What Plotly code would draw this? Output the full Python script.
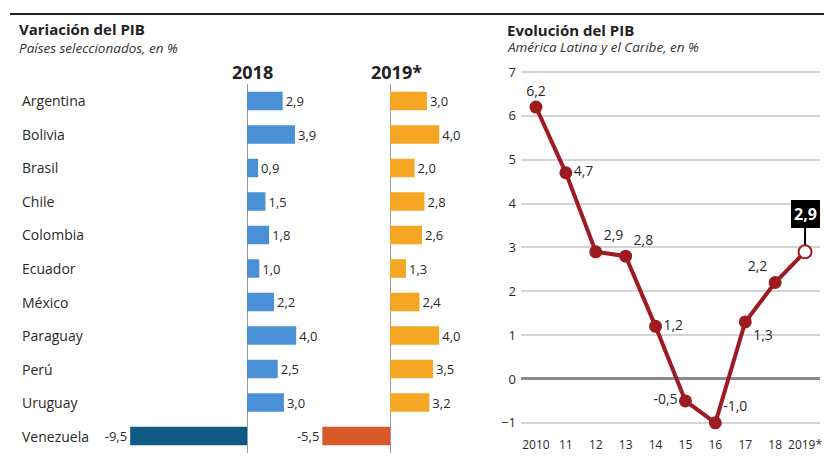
import plotly.graph_objects as go

# Datos: variación del PIB por país
paises = ["Argentina", "Bolivia", "Brasil", "Chile", "Colombia", "Ecuador",
          "México", "Paraguay", "Perú", "Uruguay", "Venezuela"]
pib_2018 = [2.9, 3.9, 0.9, 1.5, 1.8, 1.0, 2.2, 4.0, 2.5, 3.0, -9.5]
pib_2019 = [3.0, 4.0, 2.0, 2.8, 2.6, 1.3, 2.4, 4.0, 3.5, 3.2, -5.5]

# Evolución del PIB, América Latina y el Caribe
anios = ["2010", "11", "12", "13", "14", "15", "16", "17", "18", "2019*"]
pib_al = [6.2, 4.7, 2.9, 2.8, 1.2, -0.5, -1.0, 1.3, 2.2, 2.9]
y_ticks = [7, 6, 5, 4, 3, 2, 1, 0, -1]

# la página tiene 8 px de margen en el body
OFF = 8
W, H = 832 - OFF, 460 - OFF
FONT = "Open Sans"
GRIS = "#2a2a2a"


def px(x):
    return (x - OFF) / W


def py(y):
    return 1 - (y - OFF) / H


def coma(v):
    return f"{v:.1f}".replace(".", ",")


azul = ["#4a90d6" if v >= 0 else "#0f5a82" for v in pib_2018]
naranja = ["#f5a623" if v >= 0 else "#d9582a" for v in pib_2019]
rojo = "#9e1b22"

fig = go.Figure()

fig.add_trace(go.Bar(
    x=pib_2018, y=paises, orientation="h", xaxis="x", yaxis="y",
    marker=dict(color=azul, line=dict(width=0)), width=0.55,
    text=[coma(v) for v in pib_2018], textposition="outside",
    textfont=dict(size=13, color=GRIS, family=FONT), cliponaxis=False,
))
fig.add_trace(go.Bar(
    x=pib_2019, y=paises, orientation="h", xaxis="x2", yaxis="y2",
    marker=dict(color=naranja, line=dict(width=0)), width=0.55,
    text=[coma(v) for v in pib_2019], textposition="outside",
    textfont=dict(size=13, color=GRIS, family=FONT), cliponaxis=False,
))

posiciones = ["top center", "middle right", "top right", "top right", "middle right",
              "middle left", "top right", "bottom right", "top left", "top center"]
textos = [coma(v) for v in pib_al[:-1]] + [""]
fig.add_trace(go.Scatter(
    x=anios, y=pib_al, xaxis="x3", yaxis="y3", mode="lines+markers+text",
    line=dict(color=rojo, width=4),
    marker=dict(size=[11] * (len(pib_al) - 1) + [13], opacity=1,
                color=[rojo] * (len(pib_al) - 1) + ["white"],
                line=dict(color=rojo, width=2)),
    text=textos, textposition=posiciones,
    textfont=dict(size=14, color=GRIS, family=FONT), cliponaxis=False,
))

# escala de barras: ~12.3 px por punto
esc = 12.3
z18, z19 = 247, 390
d18 = (110, 300)
d19 = (310, 480)
ytop, ybot = 84.25, 452.75

bar_y = dict(domain=[py(ybot), py(ytop)], type="category", categoryarray=paises,
             autorange="reversed", showticklabels=False, showgrid=False,
             zeroline=False, automargin=False)
fig.update_layout(
    xaxis=dict(domain=[px(d18[0]), px(d18[1])],
               range=[(d18[0] - z18) / esc, (d18[1] - z18) / esc],
               showticklabels=False, showgrid=False, zeroline=True, automargin=False,
               zerolinecolor="#9a9a9a", zerolinewidth=1, anchor="y"),
    yaxis=dict(bar_y, anchor="x"),
    xaxis2=dict(domain=[px(d19[0]), px(d19[1])],
                range=[(d19[0] - z19) / esc, (d19[1] - z19) / esc],
                showticklabels=False, showgrid=False, zeroline=True, automargin=False,
                zerolinecolor="#9a9a9a", zerolinewidth=1, anchor="y2"),
    yaxis2=dict(bar_y, anchor="x2"),
    xaxis3=dict(domain=[px(521), px(820)], range=[-0.5, 9.5], type="category",
                showgrid=False, zeroline=False, anchor="y3", ticks="", automargin=False,
                tickfont=dict(size=12, color=GRIS, family=FONT)),
    yaxis3=dict(domain=[py(436), py(68)], range=[-1.30, 7.09], tickvals=y_ticks,
                showgrid=True, gridcolor="#d4d4d4", gridwidth=1.5,
                zeroline=True, zerolinecolor="#8a8a8a", zerolinewidth=2.5,
                anchor="x3", ticks="", ticklabelstandoff=4, automargin=False,
                tickfont=dict(size=13, color=GRIS, family=FONT)),
    width=W, height=H, margin=dict(l=0, r=0, t=0, b=0, pad=0),
    plot_bgcolor="white", paper_bgcolor="white", showlegend=False,
    font=dict(family=FONT, color="#222222"),
    bargap=0.4,
)

# Nombres de los países
for p in paises:
    fig.add_annotation(x=px(20), y=p, xref="paper", yref="y", text=p,
                       showarrow=False, xanchor="left", yanchor="middle",
                       font=dict(size=14, color=GRIS, family=FONT))


def texto(x, y, t, size, anchor="left", color="#222222"):
    fig.add_annotation(x=px(x), y=py(y), xref="paper", yref="paper", text=t,
                       showarrow=False, xanchor=anchor, yanchor="middle",
                       font=dict(size=size, color=color, family=FONT))


# Encabezados de año
texto(253, 72, "<b>2018</b>", 18, "center")
texto(396, 72, "<b>2019*</b>", 18, "center")

# Títulos
texto(17, 29, "<b>Variación del PIB</b>", 15)
texto(17, 48, "<i>Países seleccionados, en %</i>", 13.5, color="#333333")
texto(505, 30, "<b>Evolución del PIB</b>", 15)
texto(505, 47, "<i>América Latina y el Caribe, en %</i>", 13.5, color="#333333")

# Etiqueta destacada del último valor
fig.add_annotation(x=anios[-1], y=pib_al[-1], xref="x3", yref="y3",
                   text="<b>" + coma(pib_al[-1]) + "</b>", showarrow=True,
                   ax=0, ay=-38, arrowhead=0, arrowwidth=2, arrowcolor="black",
                   standoff=7, bgcolor="black", bordercolor="black", borderpad=2,
                   font=dict(size=16, color="white", family=FONT))

# Línea superior
fig.add_shape(type="line", xref="paper", yref="paper", x0=px(10), x1=1,
              y0=py(14), y1=py(14), line=dict(color="#222222", width=2))

fig.write_html("out.html")
